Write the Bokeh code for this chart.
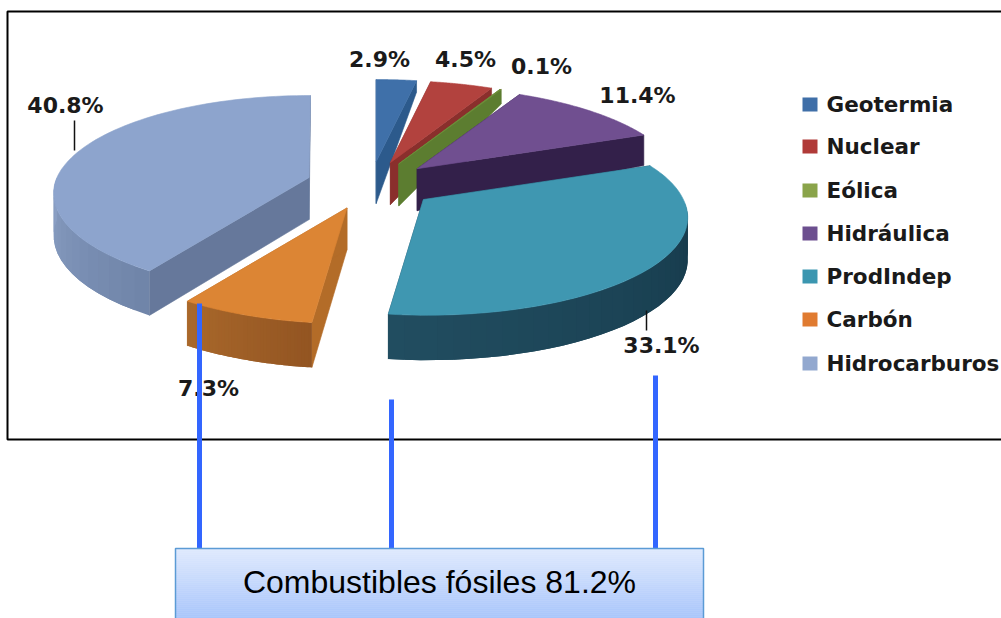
import numpy as np
from bokeh.core.properties import value
from bokeh.embed import file_html
from bokeh.models import ColumnDataSource, Range1d
from bokeh.plotting import figure
from bokeh.resources import INLINE

# Electricity generation mix, percent of total
categories = ["Geotermia", "Nuclear", "Eólica", "Hidráulica", "ProdIndep", "Carbón", "Hidrocarburos"]
shares = [2.9, 4.5, 0.1, 11.4, 33.1, 7.3, 40.8]
share_labels = ["2.9%", "4.5%", "0.1%", "11.4%", "33.1%", "7.3%", "40.8%"]
fossil_note = "Combustibles fósiles 81.2%"

# Slice colours: top face, cut face, outer wall left and right ends, legend swatch
top_colors = ["#3f70a9", "#b2423e", "#6e8f3b", "#704f90", "#3f97b1", "#dc8534", "#8da4cd"]
cut_colors = ["#2c5a8c", "#8a2f2c", "#5c7d30", "#33204a", "#1b4559", "#b36c28", "#66789b"]
wall_left = ["#2c5a8c", "#8a2f2c", "#5c7d30", "#33204a", "#214d60", "#a9682b", "#8a9fc4"]
wall_right = ["#2c5a8c", "#8a2f2c", "#5c7d30", "#33204a", "#163a4b", "#935522", "#7085a9"]
swatch_colors = ["#3f6fa8", "#b03a38", "#8aa44a", "#6c4f8f", "#3b96b0", "#e07b30", "#92a8cf"]

# Pie projection: plane coordinates (u to the right, v to the back) to page pixels
CX, CY = 370, 184
RX, RY = 260, 96
PERSPECTIVE = 0.17
EXPLODE = 0.25


def project(u, v):
    d = 1 + PERSPECTIVE * v
    return RX * u / d, -RY * v / d


def depth(v):
    # Thickness shrinks towards the back of the pie
    return 42 - 31 * v if v > 0 else 42 - 3 * v


p = figure(width=1001, height=618, output_backend="svg", toolbar_location=None,
           x_range=Range1d(0, 1001), y_range=Range1d(618, 0), min_border=0)
p.axis.visible = False
p.grid.visible = False
p.outline_line_color = None
p.background_fill_color = "white"
p.border_fill_color = "white"


def face(xs, ys, color, line=0.6):
    p.patch(list(xs), list(ys), fill_color=color, line_color=color, line_width=line)


def mix(a, b, t):
    ca = [int(a[i:i + 2], 16) for i in (1, 3, 5)]
    cb = [int(b[i:i + 2], 16) for i in (1, 3, 5)]
    return "#%02x%02x%02x" % tuple(round(x + (y - x) * t) for x, y in zip(ca, cb))


edges = np.radians(np.concatenate([[0], np.cumsum(shares)]) * 3.6)

# Painter's order: the back slices first, the two front slices last
for i in [0, 1, 2, 3, 6, 5, 4]:
    t0, t1 = edges[i], edges[i + 1]
    mid = (t0 + t1) / 2
    dx, dy = project(EXPLODE * np.sin(mid), EXPLODE * np.cos(mid))
    ax, ay = CX + dx, CY + dy

    def rim(t):
        u, v = np.sin(t), np.cos(t)
        rx, ry = project(u, v)
        # The left half sits slightly narrower and the front leans right
        if u < 0:
            rx *= 0.97
        if v < 0:
            rx -= 3 * v
        return ax + rx, ay + ry

    # Cut faces
    for t in (t0, t1):
        rx, ry = rim(t)
        d_rim = depth(np.cos(t))
        face([ax, rx, rx, ax], [ay, ry, ry + d_rim, ay + depth(0)], cut_colors[i])

    # Outer wall, only where the rim faces the viewer; pieces overlap to hide seams
    ts = np.linspace(t0, t1, 40)
    ts = ts[np.cos(ts) < 0.0]
    n = len(ts)
    for j in range(n - 1):
        k = min(j + 2, n - 1)
        xa, ya = rim(ts[j])
        xm, ym = rim(ts[j + 1])
        xb, yb = rim(ts[k])
        shade = mix(wall_right[i], wall_left[i], j / max(n - 2, 1))
        xs = [xa, xm, xb, xb, xm, xa]
        ys = [ya, ym, yb,
              yb + depth(np.cos(ts[k])), ym + depth(np.cos(ts[j + 1])), ya + depth(np.cos(ts[j]))]
        p.patch(xs, ys, fill_color=shade, line_color=None)

    # Top face
    ts = np.linspace(t0, t1, 80)
    pts = [rim(t) for t in ts]
    face([ax] + [q[0] for q in pts], [ay] + [q[1] for q in pts], top_colors[i])

# Leader lines and value labels
p.segment([74, 646], [120, 310], [74, 646], [150, 330], line_color="#111111", line_width=1.5)
label_x = [379, 465, 541, 637, 661, 208, 65]
label_y = [59, 59, 66, 95, 345, 388, 105]
p.text(label_x, label_y, text=share_labels, text_font=value("DejaVu Sans"),
       text_font_style="bold", text_font_size="22px", text_color="#1a1a1a",
       text_align="center", text_baseline="middle")

# Chart frame, open on the right where it runs off the page
p.line([1001, 7, 7, 1001], [11, 11, 439, 439], line_color="black", line_width=2)

# Legend
legend_y = [104, 146, 190, 233, 276, 319, 363]
p.rect([809.5] * 7, legend_y, width=15, height=14, fill_color=swatch_colors, line_color=None)
p.text([826] * 7, legend_y, text=categories, text_font=value("DejaVu Sans"),
       text_font_style="bold", text_font_size="21.5px", text_color="#1a1a1a",
       text_align="left", text_baseline="middle")

# Blue connectors running down to the note box
p.segment([199, 391, 655], [303, 399, 375], [199, 391, 655], [548, 548, 548],
          line_color="#3366ff", line_width=5)

# Note box with a vertical gradient, cut off by the page's lower edge
box_edges = np.linspace(548, 618, 36)
box = ColumnDataSource(dict(
    top=box_edges[:-1], bottom=box_edges[1:],
    color=[mix("#dfe9fd", "#a9c6fb", k / 34) for k in range(35)]))
p.quad(left=175, right=703, top="top", bottom="bottom", source=box,
       fill_color="color", line_color="color", line_width=0.5)
p.line([175, 175, 703, 703], [618, 548, 548, 618], line_color="#5b9bd5", line_width=1.5)
p.text([439], [581], text=[fossil_note], text_font=value("Liberation Sans"),
       text_font_size="32px", text_color="black", text_align="center", text_baseline="middle")

open("out.html", "w").write(file_html(p, INLINE))
